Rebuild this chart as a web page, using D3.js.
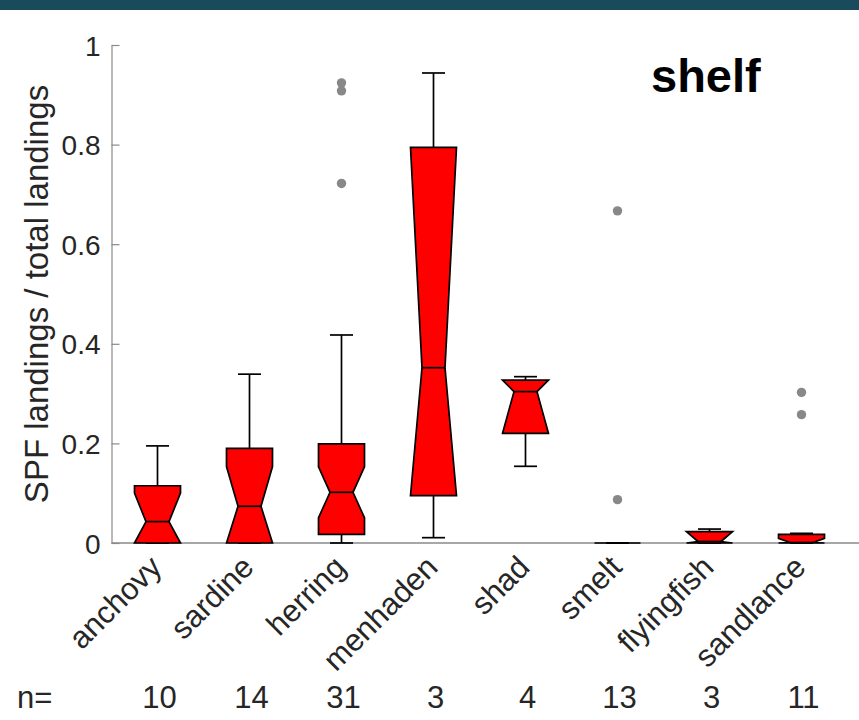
<!DOCTYPE html>
<html>
<head>
<meta charset="utf-8">
<script src="https://cdn.jsdelivr.net/npm/d3@7"></script>
<style>
  html, body { margin: 0; padding: 0; background: #fff; }
  svg { display: block; font-family: "Liberation Sans", Arial, Helvetica, sans-serif; }
</style>
</head>
<body>
<svg id="chart" width="859" height="720"></svg>
<script>
// Species and sample sizes
const categories = ["anchovy", "sardine", "herring", "menhaden", "shad", "smelt", "flyingfish", "sandlance"];
const counts = [10, 14, 31, 3, 4, 13, 3, 11];

// Box statistics (fraction of total landings)
const q1Values      = [0,     0,      0.0174, 0.095,  0.220, 0, 0,      0];
const medianValues  = [0.043, 0.0737, 0.1018, 0.352,  0.304, 0, 0.003,  0.001];
const q3Values      = [0.115, 0.190,  0.199,  0.7945, 0.327, 0, 0.0227, 0.0174];
const whiskerLow    = [0,     0,      0,      0.0107, 0.154, 0, 0,      0];
const whiskerHigh   = [0.195, 0.339,  0.4177, 0.9438, 0.334, 0, 0.028,  0.0194];
const outlierValues = [[], [], [0.924, 0.908, 0.722], [], [], [0.667, 0.087], [], [0.3025, 0.2577]];

const yTicks = [0, 0.2, 0.4, 0.6, 0.8, 1];
const yTickLabels = ["0", "0.2", "0.4", "0.6", "0.8", "1"];
const panelTitle = "shelf";
const yTitle = "SPF landings / total landings";

const W = 859, H = 720;
const svg = d3.select("#chart");

// header band
svg.append("rect").attr("x", 0).attr("y", 0).attr("width", W).attr("height", 10).attr("fill", "#1a4b5c");

const x = d3.scaleLinear().domain([0.5, 8.5]).range([111.5, 847.5]);
const y = d3.scaleLinear().domain([0, 1]).range([543, 45]);

const axisColor = "#8a8a8a";
const textColor = "#262626";

// y axis with inward ticks
const yAxis = d3.axisLeft(y).tickValues(yTicks).tickSizeInner(-8).tickSizeOuter(0)
  .tickFormat((d, i) => yTickLabels[i]).tickPadding(11);
const gy = svg.append("g").attr("transform", `translate(${x(0.5)},0)`).call(yAxis);
gy.select(".domain").attr("stroke", axisColor).attr("stroke-width", 1.2);
gy.selectAll(".tick line").attr("stroke", axisColor).attr("stroke-width", 1.2);
gy.selectAll(".tick text").attr("fill", textColor).attr("font-size", 28)
  .attr("font-family", "Liberation Sans, Arial, sans-serif").attr("dy", "0.36em");

// x axis baseline
svg.append("line").attr("x1", x(0.5)).attr("x2", W).attr("y1", y(0)).attr("y2", y(0))
  .attr("stroke", axisColor).attr("stroke-width", 1.5);

// y axis title
svg.append("text").attr("transform", `translate(48,294) rotate(-90)`)
  .attr("text-anchor", "middle").attr("font-size", 33).attr("fill", textColor).text(yTitle);

// panel title
svg.append("text").attr("x", 651).attr("y", 92).attr("font-size", 47).attr("font-weight", "bold")
  .attr("fill", "#000").text(panelTitle);

const boxHalf = 0.25, notchHalf = 0.125, capHalf = 0.125;
const g = svg.append("g");

categories.forEach((name, i) => {
  const pos = i + 1;
  const q1 = q1Values[i], med = medianValues[i], q3 = q3Values[i];
  const notch = 1.57 * (q3 - q1) / Math.sqrt(counts[i]);
  const nlo = Math.max(q1, med - notch), nhi = Math.min(q3, med + notch);
  const L = x(pos - boxHalf), R = x(pos + boxHalf);
  const nL = x(pos - notchHalf), nR = x(pos + notchHalf);
  const cx = x(pos);

  // whiskers
  g.append("line").attr("x1", cx).attr("x2", cx).attr("y1", y(q3)).attr("y2", y(whiskerHigh[i]))
    .attr("stroke", "#000").attr("stroke-width", 1.7);
  g.append("line").attr("x1", x(pos - capHalf)).attr("x2", x(pos + capHalf))
    .attr("y1", y(whiskerHigh[i])).attr("y2", y(whiskerHigh[i])).attr("stroke", "#000").attr("stroke-width", 1.7);
  g.append("line").attr("x1", cx).attr("x2", cx).attr("y1", y(q1)).attr("y2", y(whiskerLow[i]))
    .attr("stroke", "#000").attr("stroke-width", 1.7);
  g.append("line").attr("x1", x(pos - capHalf)).attr("x2", x(pos + capHalf))
    .attr("y1", y(whiskerLow[i])).attr("y2", y(whiskerLow[i])).attr("stroke", "#000").attr("stroke-width", 1.7);

  // notched box
  const pts = [[L, y(q1)], [L, y(nlo)], [nL, y(med)], [L, y(nhi)], [L, y(q3)],
               [R, y(q3)], [R, y(nhi)], [nR, y(med)], [R, y(nlo)], [R, y(q1)]];
  g.append("path").attr("d", d3.line()(pts) + "Z")
    .attr("fill", "#ff0000").attr("stroke", "#000").attr("stroke-width", 1.7).attr("stroke-linejoin", "miter");

  // median
  g.append("line").attr("x1", nL).attr("x2", nR).attr("y1", y(med)).attr("y2", y(med))
    .attr("stroke", "#000").attr("stroke-width", 1.7);

  // outliers
  outlierValues[i].forEach(v => {
    g.append("circle").attr("cx", cx).attr("cy", y(v)).attr("r", 4.7).attr("fill", "#888888");
  });

  // category label
  svg.append("text").attr("transform", `translate(${cx + 6},${569}) rotate(-45)`)
    .attr("text-anchor", "end").attr("font-size", 31).attr("fill", textColor).text(name);

  // sample size
  svg.append("text").attr("x", cx + 2).attr("y", 708).attr("text-anchor", "middle")
    .attr("font-size", 31).attr("fill", textColor).text(counts[i]);
});

svg.append("text").attr("x", 17).attr("y", 708).attr("font-size", 31).attr("fill", textColor).text("n=");
</script>
</body>
</html>
